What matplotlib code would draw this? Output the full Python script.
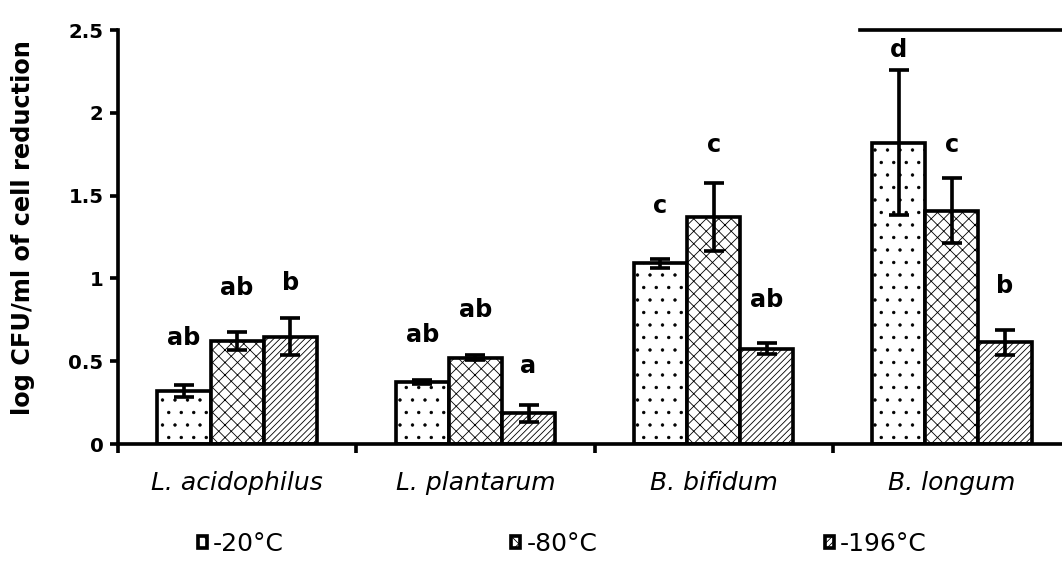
import numpy as np
import matplotlib
matplotlib.use("Agg")
import matplotlib.pyplot as plt

species = ["L. acidophilus", "L. plantarum", "B. bifidum", "B. longum"]
temps = ["-20°C", "-80°C", "-196°C"]

# mean log reduction per temperature
m20 = [0.32, 0.375, 1.09, 1.82]
m80 = [0.62, 0.52, 1.37, 1.41]
m196 = [0.648, 0.185, 0.574, 0.615]

# error bar half widths
e20 = [0.035, 0.01, 0.03, 0.44]
e80 = [0.055, 0.015, 0.205, 0.195]
e196 = [0.11, 0.05, 0.033, 0.075]

# significance letters and the height they sit at
let20 = ["ab", "ab", "c", "d"]
let80 = ["ab", "ab", "c", "c"]
let196 = ["b", "a", "ab", "b"]
lety20 = [0.598, 0.618, 1.397, 2.339]
lety80 = [0.900, 0.769, 1.761, 1.765]
lety196 = [0.930, 0.427, 0.829, 0.910]

plt.rcParams["font.family"] = ["DejaVu Sans"]
plt.rcParams["hatch.linewidth"] = 0.8

fig = plt.figure(figsize=(1062 / 75, 562 / 75), dpi=75)
ax = fig.add_axes([118 / 1062, 1 - 444 / 562, 953 / 1062, 414 / 562])

x = np.arange(len(species))
w = 0.223
hatches = [".", "xx", "////"]
means = [m20, m80, m196]
errs = [e20, e80, e196]
lets = [let20, let80, let196]
letys = [lety20, lety80, lety196]

bars = []
for i in range(3):
    pos = x + (i - 1) * w
    b = ax.bar(pos, means[i], w, color="white", edgecolor="black",
               hatch=hatches[i], linewidth=3.5, label=temps[i], zorder=2)
    bars.append(b)
    ax.errorbar(pos, means[i], yerr=errs[i], fmt="none", ecolor="black",
                elinewidth=3.5, capsize=9.5, capthick=3.5, zorder=3)
    for p, t, ty in zip(pos, lets[i], letys[i]):
        ax.text(p, ty, t, ha="center", va="baseline", fontsize=23,
                fontweight="bold")

ax.set_xlim(-0.5, 3.5)
ax.set_ylim(0, 2.5)
ax.set_yticks(np.arange(0, 2.51, 0.5))
ax.set_yticklabels(["0", "0.5", "1", "1.5", "2", "2.5"], fontweight="bold",
                   fontsize=19)
ax.set_xticks(x)
ax.set_xticklabels(species, fontstyle="italic", fontsize=24)
ax.set_xticks(np.arange(-0.5, 3.0, 1.0), minor=True)
ax.tick_params(axis="x", which="major", length=0, pad=26)
ax.tick_params(axis="x", which="minor", length=9, width=3.5, direction="out")
ax.tick_params(axis="y", length=8, width=3.5, direction="out", pad=6)

for s in ["top", "right"]:
    ax.spines[s].set_visible(False)
for s in ["left", "bottom"]:
    ax.spines[s].set_linewidth(3.5)

ax.axhline(2.5, xmin=0.779, xmax=1.0, color="black", linewidth=3.5,
           clip_on=False)

ax.set_ylabel("log CFU/ml of cell reduction", fontsize=23, fontweight="bold")
ax.yaxis.set_label_coords(-0.087, 0.523)

fig.legend(handles=bars, labels=temps, ncol=3, loc="center left",
           bbox_to_anchor=(198 / 1062, 1 - 544 / 562), frameon=False,
           fontsize=24, borderpad=0, borderaxespad=0, handlelength=0.36,
           handleheight=0.36, handletextpad=0.24, columnspacing=9.1)

fig.savefig("out.png", dpi=75)
